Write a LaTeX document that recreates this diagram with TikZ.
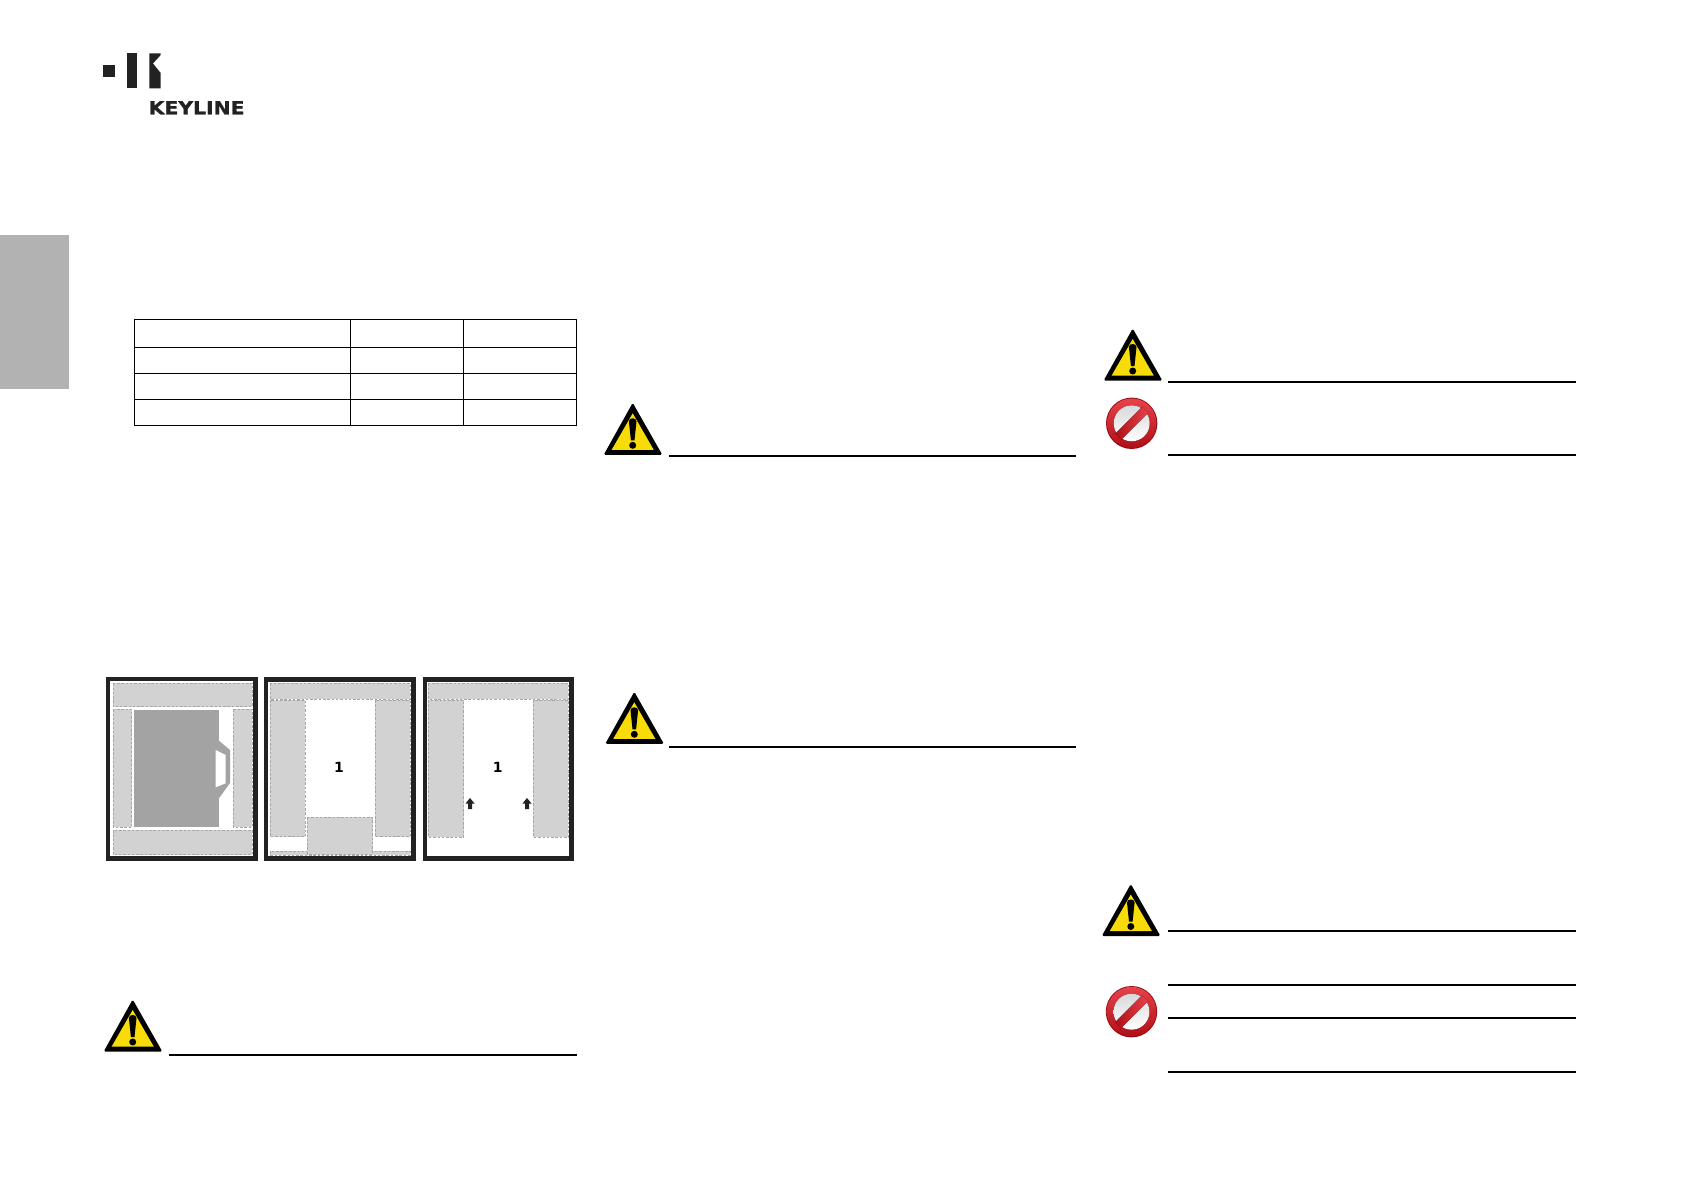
\documentclass[tikz,border=0pt]{standalone}
\usepackage{fontspec}
\setmainfont{DejaVu Sans}
\newfontfamily\brandfont[FakeBold=1.2]{DejaVu Sans Bold}
\definecolor{tabgray}{HTML}{B2B2B2}
\definecolor{zone}{HTML}{D2D2D2}
\definecolor{doorgray}{HTML}{A3A3A3}
\definecolor{ink}{HTML}{222222}
\definecolor{warnyellow}{HTML}{F8DC0A}
\definecolor{redlight}{HTML}{E8434B}
\definecolor{reddark}{HTML}{B00E16}
\tikzset{
  rule/.style={black,line width=2pt},
  cell/.style={black,line width=1.2pt},
  frame/.style={draw=ink,line width=4.4pt,fill=white,line join=miter},
  zonebox/.style={fill=zone,draw=gray!70,line width=.8pt,dash pattern=on 2.5pt off 1.8pt},
  warn/.pic={
    \fill[black,rounded corners=1.5pt] (0,-1.5) -- (29.6,50.5) -- (-29,50.5) -- cycle;
    \fill[warnyellow] (0,9) -- (21,45.5) -- (-21,45.5) -- cycle;
    \fill[black] (-3.8,17) .. controls (-3.8,13) and (3.8,13) .. (3.8,17) -- (1.8,36) -- (-1.8,36) -- cycle;
    \fill[black] (0,41) circle (3.5);
  },
  forbid/.pic={
    \fill[reddark] (0,0) circle (25.7);
    \fill[top color=redlight,bottom color=reddark] (0,0) circle (24.9);
    \fill[top color=gray!30,bottom color=white] (0,0) circle (18);
    \fill[left color=reddark,right color=redlight,rotate=45] (-19,-4.2) rectangle (19,4.2);
  }
}
\begin{document}
\begin{tikzpicture}[x=1pt,y=-1pt]
\useasboundingbox (0,0) rectangle (1684,1190);
\fill[white] (0,0) rectangle (1684,1190);
% side tab
\fill[tabgray] (0,235) rectangle (69,389);
% logo
\fill[ink] (103.3,65) rectangle (115,76.7);
\fill[ink] (126.7,53.3) rectangle (137,88.3);
\fill[ink] (149.3,53.3) -- (160.7,53.3) -- (160.7,55) -- (153,63.5) -- (160.7,73) -- (160.7,88.3) -- (149.3,88.3) -- cycle;
\node[anchor=base west,inner sep=0pt,font=\brandfont\fontsize{18}{18}\selectfont,text=ink,xscale=1.13] (brand) at (148.5,114.3) {KEYLINE};
% table
\draw[cell] (134.3,319.3) rectangle (576.3,425.3);
\foreach \yy in {347.3,373.3,399.3} \draw[cell] (134.3,\yy) -- (576.3,\yy);
\foreach \xx in {350.3,463.3} \draw[cell] (\xx,319.3) -- (\xx,425.3);
% panel 1
\draw[frame] (108,678.8) rectangle (255.5,858.5);
\draw[zonebox] (113.3,683.2) rectangle (252,706.7);
\draw[zonebox] (113.3,709.3) rectangle (131.7,827.3);
\draw[zonebox] (233.3,709.3) rectangle (252,827.3);
\draw[zonebox] (113.3,830) rectangle (252,854.5);
\fill[doorgray] (134,710) rectangle (219,826.7);
\fill[doorgray] (219,740.7) -- (230,750) -- (230,783) -- (219,798.3) -- cycle;
\fill[white] (215.7,750) -- (225.7,755) -- (225.7,783.3) -- (215.7,787.3) -- cycle;
% panel 2
\draw[frame] (266,679.5) rectangle (413.5,858.5);
\draw[zonebox] (270,683.2) rectangle (410,699);
\draw[zonebox] (270,700) rectangle (305,836.7);
\draw[zonebox] (375,700) rectangle (410,836.7);
\draw[zonebox] (270,851) rectangle (410,855);
\draw[zonebox] (307.3,817.3) rectangle (372.7,854);
\node[font=\fontsize{14}{14}\selectfont\bfseries,inner sep=0pt] (one) at (339,767.7) {1};
% panel 3
\draw[frame] (424.8,679.5) rectangle (571.5,858.5);
\draw[zonebox] (428.3,683.2) rectangle (568.3,699);
\draw[zonebox] (428.3,700) rectangle (463.7,837);
\draw[zonebox] (533.3,700) rectangle (568.3,837);
\node[font=\fontsize{14}{14}\selectfont\bfseries,inner sep=0pt] (onebis) at (497.7,767.7) {1};
\fill[ink] (470,798) -- (474.5,803.5) -- (472,803.5) -- (472,809) -- (468,809) -- (468,803.5) -- (465.5,803.5) -- cycle;
\fill[ink] (527,798) -- (531.5,803.5) -- (529,803.5) -- (529,809) -- (525,809) -- (525,803.5) -- (522.5,803.5) -- cycle;
% warnings
\pic at (132.7,1001) {warn};
\pic at (632.7,404.3) {warn};
\pic at (634.3,693.3) {warn};
\pic at (1132.7,330) {warn};
\pic at (1130.8,885.5) {warn};
\pic at (1131.7,423.3) {forbid};
\pic at (1131.5,1011.7) {forbid};
% rules
\draw[rule] (169,1055) -- (576.7,1055);
\draw[rule] (669,455.8) -- (1076,455.8);
\draw[rule] (669,746.7) -- (1076,746.7);
\draw[rule] (1168,382) -- (1576,382);
\draw[rule] (1168,455) -- (1576,455);
\draw[rule] (1168,931) -- (1576,931);
\draw[rule] (1168,984.7) -- (1576,984.7);
\draw[rule] (1168,1017.7) -- (1576,1017.7);
\draw[rule] (1168,1071.7) -- (1576,1071.7);
\end{tikzpicture}
\end{document}
